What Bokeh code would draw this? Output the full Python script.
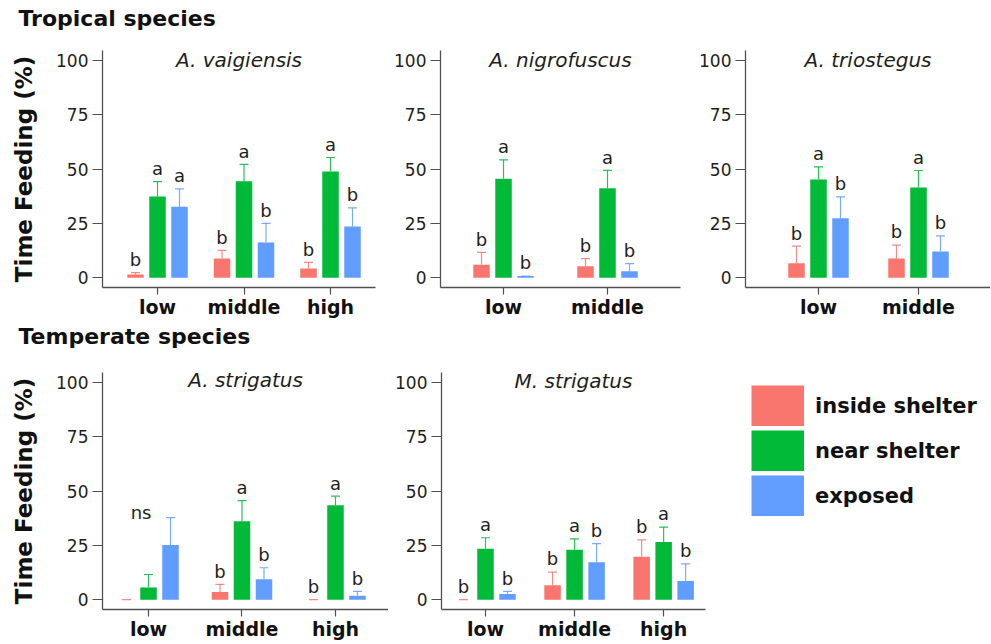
from bokeh.plotting import figure
from bokeh.layouts import column, row
from bokeh.models import FixedTicker, Label, Legend, LegendItem, ColumnDataSource, Range1d
from bokeh.core.properties import value
from bokeh.embed import file_html
from bokeh.resources import INLINE

# ---------------- data ----------------
series = ["inside shelter", "near shelter", "exposed"]
colors = ["#F8766D", "#00BA38", "#619CFF"]

# A. vaigiensis (tropical)
vaig_cats = ["low", "middle", "high"]
vaig_mean = [[1.5, 8.8, 4.2], [37.4, 44.4, 48.8], [32.6, 16.2, 23.5]]
vaig_upper = [[2.3, 12.6, 7.1], [44.2, 52.1, 55.3], [40.9, 25.0, 32.1]]
vaig_letters = [["b", "b", "b"], ["a", "a", "a"], ["a", "b", "b"]]

# A. nigrofuscus (tropical)
nigr_cats = ["low", "middle"]
nigr_mean = [[6.0, 5.3], [45.5, 41.2], [0.8, 3.0]]
nigr_upper = [[11.7, 8.8], [54.2, 49.4], [0.8, 6.5]]
nigr_letters = [["b", "b"], ["a", "a"], ["b", "b"]]

# A. triostegus (tropical)
trio_cats = ["low", "middle"]
trio_mean = [[6.7, 8.8], [45.2, 41.5], [27.4, 12.0]]
trio_upper = [[14.5, 15.0], [51.0, 49.3], [37.2, 19.2]]
trio_letters = [["b", "b"], ["a", "a"], ["b", "b"]]

# A. strigatus (temperate)
astr_cats = ["low", "middle", "high"]
astr_mean = [[0.0, 3.6, 0.0], [5.6, 36.1, 43.4], [25.2, 9.4, 1.8]]
astr_upper = [[0.0, 7.1, 0.0], [11.6, 45.6, 47.6], [37.8, 14.7, 3.8]]
astr_letters = [["", "b", "b"], ["", "a", "a"], ["", "b", "b"]]
astr_note = ("low", "ns", 35.5)

# M. strigatus (temperate)
mstr_cats = ["low", "middle", "high"]
mstr_mean = [[0.0, 6.6, 19.8], [23.4, 23.0, 26.6], [2.6, 17.2, 8.6]]
mstr_upper = [[0.0, 12.7, 27.5], [28.5, 28.0, 33.4], [3.8, 25.8, 16.5]]
mstr_letters = [["b", "b", "b"], ["a", "a", "a"], ["b", "b", "b"]]

group_titles = ["Tropical species", "Temperate species"]
y_ticks = [0, 25, 50, 75, 100]

FONT = "DejaVu Sans"
TXT = "#1e1e1e"
AX = "#505050"
W = 990


def heading(text, height, text_x, text_y):
    p = figure(width=W, height=height, x_range=Range1d(0, W), y_range=Range1d(0, height),
               x_axis_location=None, y_axis_location=None, output_backend="svg",
               toolbar_location=None, tools="", min_border_left=0, min_border_right=0,
               min_border_top=0, min_border_bottom=0)
    p.outline_line_color = None
    p.grid.visible = False
    p.add_layout(Label(x=text_x, y=text_y, text=text, text_align="left",
                       text_baseline="middle", text_font=FONT, text_font_style="bold",
                       text_font_size="22px", text_color="#111111"))
    return p


def make_panel(cats, mean, upper, letters, title, xr, frame_w, frame_h,
               left, right, top, bottom, title_y=100, ylabel=None):
    k = frame_w / (xr[1] - xr[0])
    bw = 16.5 / k
    off = 22.0 / k
    cap = 4.5 / k
    p = figure(width=left + frame_w + right, height=top + frame_h + bottom,
               x_range=Range1d(*xr), y_range=Range1d(-4.5, 104.5),
               output_backend="svg", toolbar_location=None, tools="",
               min_border_left=left, min_border_right=right,
               min_border_top=top, min_border_bottom=bottom)
    p.outline_line_color = None
    p.xgrid.visible = False
    p.ygrid.visible = False
    p.background_fill_color = "white"
    p.border_fill_color = "white"

    pos = list(range(1, len(cats) + 1))
    renderers = []
    for si, (name, col) in enumerate(zip(series, colors)):
        xs = [x + (si - 1) * off for x in pos]
        src = ColumnDataSource(dict(x=xs, top=mean[si], up=upper[si],
                                    cl=[x - cap for x in xs], cr=[x + cap for x in xs],
                                    ly=[u + 1.2 for u in upper[si]], lab=letters[si]))
        r = p.vbar(x="x", top="top", bottom=0, width=bw, source=src,
                   fill_color=col, line_color=None)
        renderers.append(r)
        p.segment(x0="x", y0="top", x1="x", y1="up", source=src, line_color=col,
                  line_width=1.2, line_alpha=0.85)
        p.segment(x0="cl", y0="up", x1="cr", y1="up", source=src, line_color=col,
                  line_width=1.2, line_alpha=0.85)
        p.text(x="x", y="ly", text="lab", source=src, text_align="center",
               text_baseline="bottom", text_font=value(FONT), text_font_size="18px",
               text_color=TXT)

    # axes
    yax = p.yaxis[0]
    yax.ticker = FixedTicker(ticks=y_ticks)
    yax.minor_tick_line_color = None
    yax.major_tick_out = 10
    yax.major_tick_in = 0
    yax.major_label_standoff = 4
    yax.major_label_text_font = FONT
    yax.major_label_text_font_size = "17px"
    yax.major_label_text_color = TXT
    yax.axis_line_color = AX
    yax.axis_line_width = 1.3
    yax.major_tick_line_color = AX
    yax.major_tick_line_width = 1.2
    if ylabel:
        yax.axis_label = ylabel
        yax.axis_label_text_font = FONT
        yax.axis_label_text_font_style = "bold"
        yax.axis_label_text_font_size = "23px"
        yax.axis_label_text_color = "#111111"
        yax.axis_label_standoff = 16

    xax = p.xaxis[0]
    xax.ticker = FixedTicker(ticks=pos)
    xax.major_label_overrides = {x: c for x, c in zip(pos, cats)}
    xax.minor_tick_line_color = None
    xax.major_tick_out = 7
    xax.major_tick_in = 0
    xax.major_label_standoff = 1
    xax.major_label_text_font = FONT
    xax.major_label_text_font_style = "bold"
    xax.major_label_text_font_size = "19px"
    xax.major_label_text_color = "#111111"
    xax.axis_line_color = AX
    xax.axis_line_width = 1.3
    xax.major_tick_line_color = AX
    xax.major_tick_line_width = 1.2

    p.add_layout(Label(x=(xr[0] + xr[1]) / 2, y=title_y, text=title, text_align="center",
                       text_baseline="middle", text_font=FONT, text_font_style="italic",
                       text_font_size="20px", text_color=TXT))
    return p, renderers, pos


# headings
h1 = heading(group_titles[0], 30, 18, 12)
h2 = heading(group_titles[1], 32, 18, 16)

# row 1 (tropical)
f1, _, _ = make_panel(vaig_cats, vaig_mean, vaig_upper, vaig_letters, "A. vaigiensis",
                      (0.364, 3.52), 273, 240, 102, 5, 20, 30, ylabel="Time Feeding (%)")
f2, _, _ = make_panel(nigr_cats, nigr_mean, nigr_upper, nigr_letters, "A. nigrofuscus",
                      (0.394, 2.702), 240, 240, 60, 5, 20, 30)
f3, _, _ = make_panel(trio_cats, trio_mean, trio_upper, trio_letters, "A. triostegus",
                      (0.27, 2.72), 245, 240, 60, 0, 20, 30)

# row 2 (temperate)
f4, _, pos4 = make_panel(astr_cats, astr_mean, astr_upper, astr_letters, "A. strigatus",
                         (0.508, 3.567), 286, 238, 102, 0, 20, 32, title_y=101,
                         ylabel="Time Feeding (%)")
note_x = pos4[astr_cats.index(astr_note[0])] - 0.08
f4.text(x=[note_x], y=[astr_note[2]], text=[astr_note[1]], text_align="center",
        text_baseline="bottom", text_font=value(FONT), text_font_size="18px",
        text_color=TXT)

f5, _, _ = make_panel(mstr_cats, mstr_mean, mstr_upper, mstr_letters, "M. strigatus",
                      (0.506, 3.47), 264, 238, 53, 10, 20, 32, title_y=100.5)

# legend panel: thick-line proxies (outside the visible range) give full-size swatches
f6 = figure(width=W - 388 - 327, height=290, x_range=Range1d(0, 1), y_range=Range1d(0, 1),
            x_axis_location=None, y_axis_location=None, output_backend="svg",
            toolbar_location=None, tools="", min_border_left=0, min_border_right=0,
            min_border_top=0, min_border_bottom=0)
f6.outline_line_color = None
f6.grid.visible = False
swatches = [f6.line(x=[50, 60], y=[50, 50], line_width=41, line_color=c, line_cap="butt")
            for c in colors]
legend = Legend(items=[LegendItem(label=s, renderers=[r]) for s, r in zip(series, swatches)],
                location=(36, 93), orientation="vertical",
                glyph_width=53, glyph_height=41, spacing=4, padding=0, margin=0,
                label_standoff=11, label_text_font=FONT, label_text_font_style="bold",
                label_text_font_size="21px", label_text_color="#111111",
                border_line_color=None, background_fill_alpha=0)
f6.add_layout(legend)

layout = column(h1, row(f1, f2, f3), h2, row(f4, f5, f6))
open("out.html", "w").write(file_html(layout, INLINE))
